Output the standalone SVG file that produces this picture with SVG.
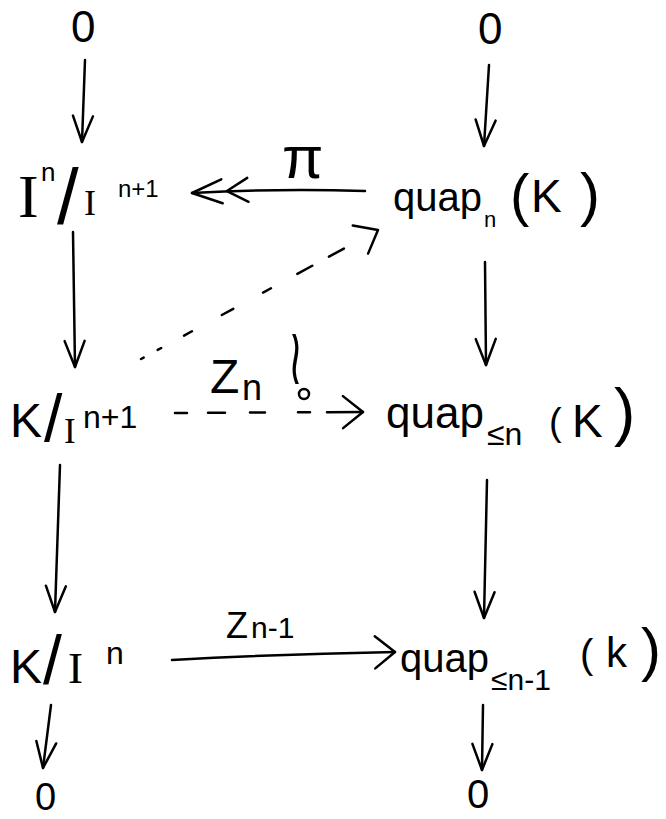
<svg xmlns="http://www.w3.org/2000/svg" width="666" height="819" viewBox="0 0 666 819">
<style>
text{font-family:"Liberation Sans","DejaVu Sans",sans-serif;fill:#000}
.serif{font-family:"Liberation Serif","DejaVu Serif",serif}
.sym{font-family:"DejaVu Sans","Liberation Sans",sans-serif}
.ln{fill:none;stroke:#000;stroke-width:2.5;stroke-linecap:round;stroke-linejoin:round}
.mk{fill:none;stroke:#000;stroke-width:2.5;stroke-linecap:round;stroke-linejoin:round}
</style>
<defs>
<marker id="v" viewBox="-40 -20 42 40" refX="0" refY="0" markerWidth="42" markerHeight="40" markerUnits="userSpaceOnUse" orient="auto">
<path class="mk" d="M-26,-10 L0,0 L-26,10"/>
</marker>
<marker id="h" viewBox="-40 -20 42 40" refX="0" refY="0" markerWidth="42" markerHeight="40" markerUnits="userSpaceOnUse" orient="auto">
<path class="mk" d="M-20,-16 L0,0 L-20,16"/>
</marker>
<marker id="h2" viewBox="-70 -20 72 40" refX="0" refY="0" markerWidth="72" markerHeight="40" markerUnits="userSpaceOnUse" orient="auto">
<path class="mk" d="M-30,-12 L0,0 L-30,12 M-56,-12 L-35,0 L-56,12"/>
</marker>
</defs>

<g id="zero-top-left"><text x="71" y="42" font-size="44">0</text></g>
<g id="zero-top-right"><text x="478" y="44" font-size="44">0</text></g>

<g id="InIn1">
<text><tspan class="serif" x="18" y="217" font-size="62">I</tspan><tspan x="41" y="181" font-size="26">n</tspan><tspan x="57" y="224" font-size="78">/</tspan><tspan class="serif" x="84" y="215" font-size="36">I</tspan><tspan x="118" y="197" font-size="24">n+1</tspan></text>
</g>

<g id="quap_n">
<text><tspan x="393" y="211" font-size="40">quap</tspan><tspan x="484" y="227" font-size="22">n</tspan><tspan x="510" y="215" font-size="58">(</tspan><tspan x="531" y="212" font-size="46">K</tspan><tspan x="580" y="215" font-size="60">)</tspan></text>
</g>

<g id="KIn1">
<text><tspan x="10" y="437" font-size="48">K</tspan><tspan x="44" y="441" font-size="66">/</tspan><tspan class="serif" x="64" y="443" font-size="35">I</tspan><tspan x="83" y="428" font-size="32">n+1</tspan></text>
</g>

<g id="quap_le_n">
<text><tspan x="386" y="428" font-size="44">quap</tspan><tspan x="487" y="445" font-size="32">≤n</tspan><tspan x="549" y="435" font-size="38">(</tspan><tspan x="572" y="437" font-size="46">K</tspan><tspan x="614" y="434" font-size="64">)</tspan></text>
</g>

<g id="KIn">
<text><tspan x="10" y="683" font-size="48">K</tspan><tspan x="43" y="684" font-size="68">/</tspan><tspan class="serif" x="68" y="683" font-size="45">I</tspan><tspan x="106" y="664" font-size="32">n</tspan></text>
</g>

<g id="quap_le_n1">
<text><tspan x="400" y="672" font-size="40">quap</tspan><tspan x="491" y="690" font-size="30">≤n-1</tspan><tspan x="580" y="668" font-size="40">(</tspan><tspan x="606" y="667" font-size="42">k</tspan><tspan x="641" y="670" font-size="60">)</tspan></text>
</g>

<g id="zero-bottom-left"><text x="35" y="810" font-size="38">0</text></g>
<g id="zero-bottom-right"><text x="467" y="808" font-size="40">0</text></g>

<g id="connectors">
<path class="ln" d="M85,60 L82,142" marker-end="url(#v)"/>
<path class="ln" d="M489,65 L484,146" marker-end="url(#v)"/>
<path class="ln" d="M365,191 Q280,188 192,193" marker-end="url(#h2)"/>
<path class="ln" d="M73,232 L75,367" marker-end="url(#v)"/>
<path class="ln" d="M485,262 L486,365" marker-end="url(#v)"/>
<path class="ln" d="M141,359 L378,230" stroke-dasharray="3 16 4 26 9 34 13 34 9 30 17 19 17 39" marker-end="url(#h)"/>
<path class="ln" d="M175,413 L363,412" stroke-dasharray="12 21 17 25 15 33 12 17 36 0" marker-end="url(#h)"/>
<path class="ln" d="M60,465 L55,612" marker-end="url(#v)"/>
<path class="ln" d="M487,480 L484,618" marker-end="url(#v)"/>
<path class="ln" d="M172,660 Q280,654 395,652" marker-end="url(#h)"/>
<path class="ln" d="M51,705 L43,768" marker-end="url(#v)"/>
<path class="ln" d="M483,705 L482,770" marker-end="url(#v)"/>
</g>

<g id="labels">
<text x="282" y="178" font-size="60">π</text>
<text><tspan x="210" y="393" font-size="48">Z</tspan><tspan x="242" y="400" font-size="36">n</tspan></text>
<text class="sym" transform="translate(288,384) scale(1,2)" font-size="40">≀</text>
<circle class="ln" cx="304" cy="394" r="5"/>
<text><tspan x="226" y="638" font-size="36">Z</tspan><tspan x="251" y="638" font-size="30">n-1</tspan></text>
</g>
</svg>
